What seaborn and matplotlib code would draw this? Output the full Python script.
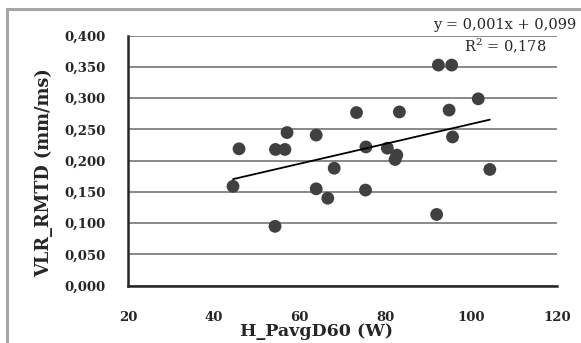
import seaborn as sns
import matplotlib.pyplot as plt
import pandas as pd
import numpy as np
from matplotlib.patches import Rectangle
from matplotlib.ticker import FuncFormatter

# values
h_pavg = [44.5, 45.9, 54.3, 54.4, 56.6, 57.1, 63.9, 63.9, 66.6, 68.1, 73.3, 75.4,
          75.5, 80.5, 82.3, 82.7, 83.3, 92.0, 92.4, 94.9, 95.5, 95.7, 101.7, 104.4]
vlr_rmtd = [0.159, 0.219, 0.095, 0.218, 0.218, 0.245, 0.241, 0.155, 0.140, 0.188, 0.277, 0.153,
            0.222, 0.220, 0.202, 0.209, 0.278, 0.114, 0.353, 0.281, 0.353, 0.238, 0.299, 0.186]
x_ticks = [20, 40, 60, 80, 100, 120]
y_ticks = [0.0, 0.05, 0.1, 0.15, 0.2, 0.25, 0.3, 0.35, 0.4]
eq_text = "y = 0,001x + 0,099"
r2_text = "R$^2$ = 0,178"

df = pd.DataFrame({'H_PavgD60 (W)': h_pavg, 'VLR_RMTD (mm/ms)': vlr_rmtd})

sns.set_style('white')
plt.rcParams['font.family'] = ['DejaVu Serif']
plt.rcParams['mathtext.fontset'] = 'dejavuserif'

W, H = 581, 343
fig = plt.figure(figsize=(W/100, H/100), dpi=100)
ax = fig.add_axes([128/W, 1 - 285.7/H, (556.7 - 128)/W, (285.7 - 35.7)/H])

# excel style chart frame (cut off at right/bottom like the source)
fig.patches.append(Rectangle((7/W, -0.05), 1.1, 1 - 9/H + 0.05, transform=fig.transFigure,
                             fill=False, edgecolor='#a6a6a6', linewidth=2.2, zorder=0))

for yv in y_ticks:
    ax.axhline(yv, color='#808080', linewidth=1.3, zorder=1)

sns.scatterplot(data=df, x='H_PavgD60 (W)', y='VLR_RMTD (mm/ms)', ax=ax, color='#404040',
                s=85, edgecolor='none', zorder=3)
sns.regplot(data=df, x='H_PavgD60 (W)', y='VLR_RMTD (mm/ms)', ax=ax, scatter=False, ci=None,
            truncate=True, line_kws={'color': 'black', 'linewidth': 1.3, 'zorder': 4})

ax.set_xlim(20, 120)
ax.set_ylim(0, 0.4)
ax.set_xticks(x_ticks)
ax.set_yticks(y_ticks)
ax.yaxis.set_major_formatter(FuncFormatter(lambda v, p: f"{v:.3f}".replace('.', ',')))
ax.tick_params(axis='both', which='major', direction='out', length=5, width=1.3,
               labelsize=9.5, color='black')
ax.tick_params(axis='y', color='#808080', pad=11)
ax.tick_params(axis='x', pad=13)
for lbl in ax.get_xticklabels() + ax.get_yticklabels():
    lbl.set_fontweight('bold')

ax.spines['top'].set_visible(False)
ax.spines['right'].set_visible(False)
ax.spines['left'].set_linewidth(1.8)
ax.spines['bottom'].set_linewidth(1.8)
ax.spines['left'].set_zorder(5)
ax.spines['bottom'].set_zorder(5)

ax.set_xlabel('H_PavgD60 (W)', fontsize=12.5, fontweight='bold')
ax.set_ylabel('VLR_RMTD (mm/ms)', fontsize=12.8, fontweight='bold')
# label placement like in the source chart (not centred on the axes)
ax.xaxis.set_label_coords((317 - 128)/(556.7 - 128), -(331 - 285.7)/(285.7 - 35.7))
ax.xaxis.label.set_va('center')
ax.yaxis.set_label_coords(-(128 - 44)/(556.7 - 128), (285.7 - 173)/(285.7 - 35.7))
ax.yaxis.label.set_va('center')

fig.text(505/W, 1 - 25/H, eq_text, ha='center', va='center', fontsize=10.5)
fig.text(505/W, 1 - 46/H, r2_text, ha='center', va='center', fontsize=10.5)

fig.savefig('out.png', dpi=100)
